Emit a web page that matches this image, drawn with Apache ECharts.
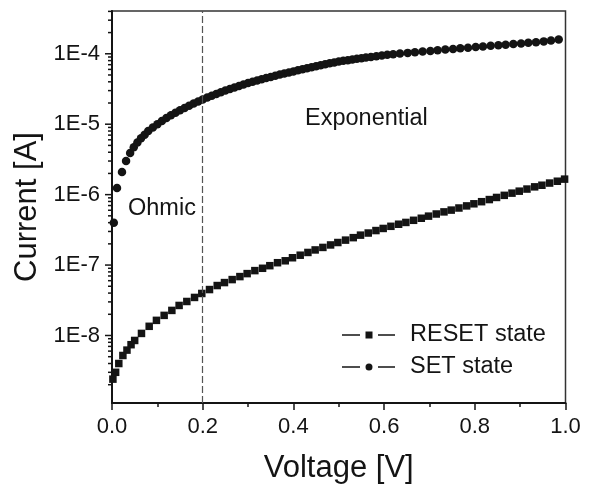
<!DOCTYPE html>
<html>
<head>
<meta charset="utf-8">
<script src="https://cdn.jsdelivr.net/npm/echarts@6/dist/echarts.min.js"></script>
<style>
  html, body { margin: 0; padding: 0; background: #fff; }
  #chart { width: 593px; height: 489px; }
</style>
</head>
<body>
<div id="chart"></div>
<script>
// I-V sweep of the memory cell in its two resistance states
const resetVoltage = [0.002, 0.008, 0.015, 0.024, 0.033, 0.042, 0.05, 0.065, 0.082, 0.098,
  0.115, 0.132, 0.148, 0.165, 0.182, 0.198, 0.215, 0.232, 0.248, 0.265,
  0.282, 0.298, 0.315, 0.332, 0.348, 0.365, 0.382, 0.398,
  0.415, 0.432, 0.448, 0.465, 0.482, 0.498, 0.515, 0.532, 0.548, 0.565,
  0.582, 0.598, 0.615, 0.632, 0.648, 0.665, 0.682, 0.698, 0.715, 0.732,
  0.748, 0.765, 0.782, 0.798, 0.815, 0.832, 0.848, 0.865,
  0.882, 0.898, 0.915, 0.932, 0.948, 0.965, 0.982, 0.998];
const resetCurrent = [2.4e-9, 3.0e-9, 4.0e-9, 5.2e-9, 6.2e-9, 7.4e-9, 8.5e-9, 1.07e-8, 1.35e-8, 1.64e-8,
  1.93e-8, 2.27e-8, 2.67e-8, 3.04e-8, 3.47e-8, 3.95e-8, 4.49e-8, 5.12e-8, 5.64e-8, 6.22e-8,
  6.86e-8, 7.56e-8, 8.34e-8, 9.0e-8, 9.8e-8, 1.08e-7, 1.15e-7, 1.27e-7,
  1.38e-7, 1.51e-7, 1.64e-7, 1.78e-7, 1.93e-7, 2.09e-7, 2.26e-7, 2.45e-7, 2.66e-7, 2.85e-7,
  3.09e-7, 3.31e-7, 3.55e-7, 3.80e-7, 4.03e-7, 4.32e-7, 4.62e-7, 4.95e-7, 5.31e-7, 5.69e-7,
  6.03e-7, 6.46e-7, 6.92e-7, 7.41e-7, 7.94e-7, 8.51e-7, 9.12e-7, 9.77e-7,
  1.05e-6, 1.12e-6, 1.20e-6, 1.29e-6, 1.36e-6, 1.46e-6, 1.55e-6, 1.66e-6];

const setVoltage = [0.004, 0.011, 0.022, 0.031, 0.040, 0.048, 0.056, 0.064, 0.072, 0.08,
  0.09, 0.10, 0.11, 0.12, 0.13, 0.14, 0.15, 0.16, 0.17, 0.18,
  0.19, 0.20, 0.21, 0.22, 0.23, 0.24, 0.25, 0.26, 0.27, 0.28,
  0.29, 0.30, 0.31, 0.32, 0.33, 0.34, 0.35, 0.36, 0.37, 0.38,
  0.39, 0.40, 0.41, 0.42, 0.43, 0.44, 0.45, 0.46, 0.47, 0.48,
  0.49, 0.50, 0.51, 0.52, 0.53, 0.54, 0.55, 0.56, 0.571, 0.583,
  0.595, 0.607, 0.62, 0.635, 0.652, 0.668, 0.685, 0.702, 0.718, 0.735,
  0.752, 0.768, 0.785, 0.802, 0.818, 0.835, 0.852, 0.868, 0.885, 0.902,
  0.918, 0.935, 0.952, 0.968, 0.985];
const setCurrent = [4.0e-7, 1.24e-6, 2.1e-6, 3.0e-6, 3.9e-6, 4.7e-6, 5.5e-6, 6.3e-6, 7.1e-6, 8.0e-6,
  9.0e-6, 1.0e-5, 1.11e-5, 1.224e-5, 1.339e-5, 1.456e-5, 1.575e-5, 1.704e-5, 1.828e-5, 1.962e-5,
  2.10e-5, 2.24e-5, 2.386e-5, 2.534e-5, 2.686e-5, 2.842e-5, 3.0e-5, 3.162e-5, 3.326e-5, 3.494e-5,
  3.666e-5, 3.84e-5, 4.007e-5, 4.176e-5, 4.348e-5, 4.522e-5, 4.699e-5, 4.878e-5, 5.06e-5, 5.244e-5,
  5.431e-5, 5.62e-5, 5.82e-5, 6.02e-5, 6.23e-5, 6.44e-5, 6.65e-5, 6.87e-5, 7.09e-5, 7.31e-5,
  7.53e-5, 7.76e-5, 7.94e-5, 8.11e-5, 8.29e-5, 8.47e-5, 8.65e-5, 8.83e-5, 9.03e-5, 9.25e-5,
  9.46e-5, 9.66e-5, 9.85e-5, 1.006e-4, 1.03e-4, 1.053e-4, 1.076e-4, 1.099e-4, 1.122e-4, 1.147e-4,
  1.172e-4, 1.197e-4, 1.222e-4, 1.248e-4, 1.273e-4, 1.298e-4, 1.323e-4, 1.348e-4, 1.373e-4, 1.40e-4,
  1.43e-4, 1.46e-4, 1.50e-4, 1.54e-4, 1.59e-4];

// axis settings
const voltageRange = [0, 1.0];
const voltageStep = 0.2;
const currentRange = [1.1e-9, 4.05e-4];
const decadeExponents = [-9, -8, -7, -6, -5, -4];
const minorMantissas = [2, 3, 4, 5, 6, 7, 8, 9];
const boundaryVoltage = 0.2;
const regionLabels = ['Ohmic', 'Exponential'];
const seriesNames = ['RESET state', 'SET state'];

const FONT = '"Liberation Sans", Arial, Helvetica, sans-serif';
const INK = '#141414';

const pairs = (xs, ys) => xs.map((x, i) => [x, ys[i]]);

// tick marks on the log axis: decades long, 2..9 short
const logTicks = [];
decadeExponents.forEach(e => {
  const d = Math.pow(10, e);
  if (d >= currentRange[0] && d <= currentRange[1]) logTicks.push([0, d, 1]);
  minorMantissas.forEach(m => {
    const v = m * d;
    if (v >= currentRange[0] && v <= currentRange[1]) logTicks.push([0, v, 0]);
  });
});

const chart = echarts.init(document.getElementById('chart'), null, { renderer: 'canvas' });

chart.setOption({
  animation: false,
  backgroundColor: '#fff',
  textStyle: { fontFamily: FONT },
  grid: {
    left: 112, right: 27.5, top: 11, bottom: 84,
    show: true, borderColor: '#333', borderWidth: 1.5, backgroundColor: 'transparent'
  },
  xAxis: {
    type: 'value',
    min: voltageRange[0], max: voltageRange[1], interval: voltageStep,
    name: 'Voltage [V]', nameLocation: 'middle', nameGap: 50,
    nameTextStyle: { fontFamily: FONT, fontSize: 31, color: INK },
    axisLine: { show: true, onZero: false, lineStyle: { color: INK, width: 2 } },
    axisTick: { show: true, inside: false, length: 7, lineStyle: { color: INK, width: 1.5 } },
    minorTick: { show: true, splitNumber: 2, length: 4, lineStyle: { color: INK, width: 1.5 } },
    splitLine: { show: false },
    axisLabel: {
      fontFamily: FONT, fontSize: 22, color: INK, margin: 13,
      formatter: v => v.toFixed(1)
    }
  },
  yAxis: {
    type: 'log', logBase: 10,
    min: currentRange[0], max: currentRange[1],
    name: 'Current [A]', nameLocation: 'middle', nameGap: 62, nameRotate: 90,
    nameTextStyle: { fontFamily: FONT, fontSize: 31, color: INK },
    axisLine: { show: true, onZero: false, lineStyle: { color: INK, width: 2 } },
    axisTick: { show: false },
    splitLine: { show: false },
    axisLabel: {
      fontFamily: FONT, fontSize: 22, color: INK, margin: 12,
      formatter: v => {
        const e = Math.log10(v);
        const r = Math.round(e);
        return Math.abs(e - r) < 1e-6 ? '1E' + r : '';
      }
    }
  },
  legend: {
    orient: 'vertical',
    left: 337, top: 317,
    itemWidth: 53, itemHeight: 7, itemGap: 6,
    textStyle: { fontFamily: FONT, fontSize: 23.5, color: INK, lineHeight: 26, padding: [0, 0, 0, 10] },
    data: [
      { name: seriesNames[0], icon: 'path://M0,2.7h18v1.6H0z M23.5,0h7v7h-7z M36,2.7h17v1.6h-17z' },
      { name: seriesNames[1], icon: 'path://M0,2.7h18v1.6H0z M23.5,3.5a3.5,3.5 0 1,0 7,0a3.5,3.5 0 1,0 -7,0z M36,2.7h17v1.6h-17z' }
    ]
  },
  graphic: [
    { type: 'text', left: 128, top: 197, style: { text: regionLabels[0], font: '23.5px ' + FONT, fill: INK } },
    { type: 'text', left: 305, top: 107, style: { text: regionLabels[1], font: '23.5px ' + FONT, fill: INK } }
  ],
  series: [
    {
      name: seriesNames[0], type: 'scatter',
      symbol: 'rect', symbolSize: 7.5,
      itemStyle: { color: INK, opacity: 1 },
      data: pairs(resetVoltage, resetCurrent),
      markLine: {
        silent: true, symbol: 'none',
        label: { show: false },
        lineStyle: { color: '#555', width: 1.2, type: [7, 3] },
        data: [{ xAxis: boundaryVoltage }]
      },
      z: 3
    },
    {
      name: seriesNames[1], type: 'scatter',
      symbol: 'circle', symbolSize: 8.5,
      itemStyle: { color: INK, opacity: 1 },
      data: pairs(setVoltage, setCurrent),
      z: 3
    },
    {
      // tick marks along the current axis
      type: 'custom', silent: true, clip: false,
      data: logTicks,
      renderItem: (params, api) => {
        const p = api.coord([api.value(0), api.value(1)]);
        const x0 = params.coordSys.x;
        const len = api.value(2) ? 7 : 4;
        return {
          type: 'line',
          shape: { x1: x0 - len, y1: p[1], x2: x0, y2: p[1] },
          style: { stroke: INK, lineWidth: 1.5 }
        };
      },
      z: 4
    }
  ]
});
</script>
</body>
</html>
